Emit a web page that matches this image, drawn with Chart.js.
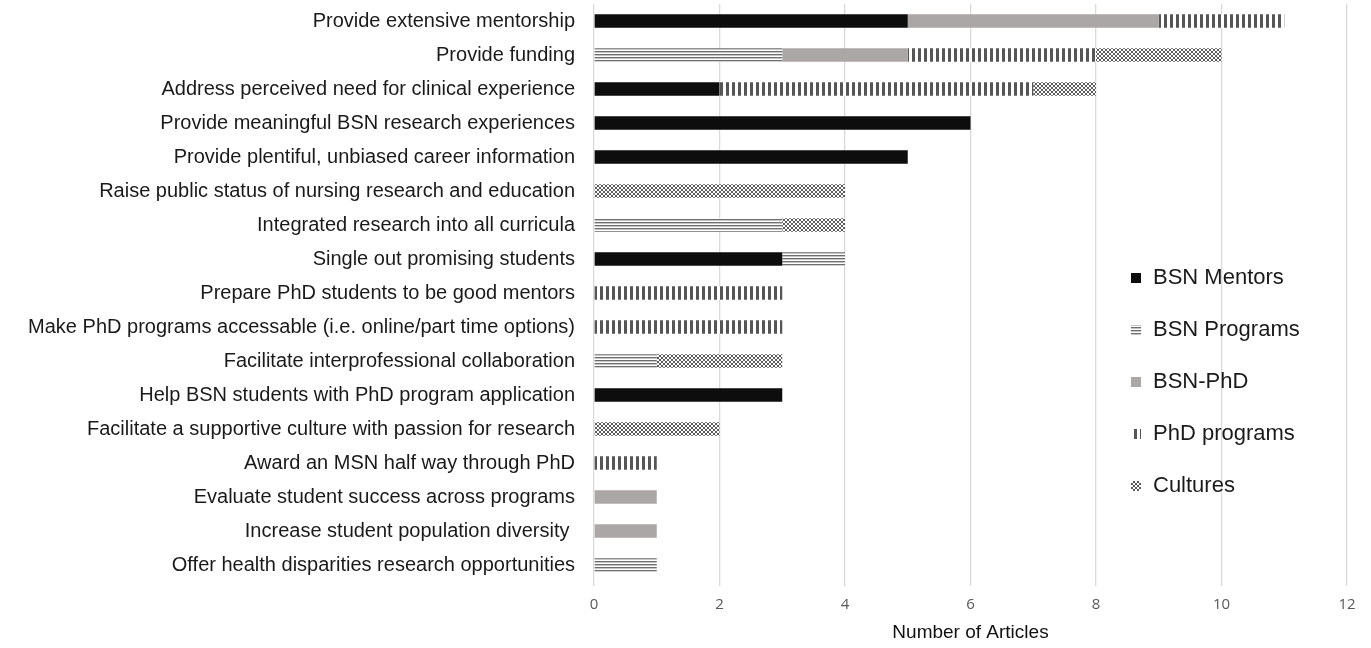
<!DOCTYPE html>
<html>
<head>
<meta charset="utf-8">
<script src="https://cdn.jsdelivr.net/npm/chart.js@4.4.1/dist/chart.umd.min.js"></script>
<style>
  html, body { margin: 0; padding: 0; background: #fff; }
  #wrap { width: 1371px; height: 648px; position: relative; }
</style>
</head>
<body>
<div id="wrap"><canvas id="chart"></canvas></div>
<script>
const categories = [
  "Provide extensive mentorship",
  "Provide funding",
  "Address perceived need for clinical experience",
  "Provide meaningful BSN research experiences",
  "Provide plentiful, unbiased career information",
  "Raise public status of nursing research and education",
  "Integrated research into all curricula",
  "Single out promising students",
  "Prepare PhD students to be good mentors",
  "Make PhD programs accessable (i.e. online/part time options)",
  "Facilitate interprofessional collaboration",
  "Help BSN students with PhD program application",
  "Facilitate a supportive culture with passion for research",
  "Award an MSN half way through PhD",
  "Evaluate student success across programs",
  "Increase student population diversity ",
  "Offer health disparities research opportunities"
];
const seriesNames = ["BSN Mentors", "BSN Programs", "BSN-PhD", "PhD programs", "Cultures"];

const bsnMentors  = [5, 0, 2, 6, 5, 0, 0, 3, 0, 0, 0, 3, 0, 0, 0, 0, 0];
const bsnPrograms = [0, 3, 0, 0, 0, 0, 3, 1, 0, 0, 1, 0, 0, 0, 0, 0, 1];
const bsnPhd      = [4, 2, 0, 0, 0, 0, 0, 0, 0, 0, 0, 0, 0, 0, 1, 1, 0];
const phdPrograms = [2, 3, 5, 0, 0, 0, 0, 0, 3, 3, 0, 0, 0, 1, 0, 0, 0];
const cultures    = [0, 2, 1, 0, 0, 4, 1, 0, 0, 0, 2, 0, 2, 0, 0, 0, 0];

const xTicks = [0, 2, 4, 6, 8, 10, 12];

// fill patterns
function makePattern(w, h, draw) {
  const c = document.createElement("canvas");
  c.width = w; c.height = h;
  const g = c.getContext("2d");
  g.fillStyle = "#fff";
  g.fillRect(0, 0, w, h);
  draw(g);
  return c.getContext("2d").createPattern(c, "repeat");
}
const hStripes = makePattern(4, 3, g => {
  g.fillStyle = "#6e6e6e";
  g.fillRect(0, 0, 4, 1.4);
});
const vDashes = makePattern(6, 4, g => {
  g.fillStyle = "#555";
  g.fillRect(0, 0, 3, 4);
});
const cross = makePattern(4, 4, g => {
  g.fillStyle = "#5c5c5c";
  [[0,0],[1,1],[2,2],[3,3],[3,0],[2,1],[1,2],[0,3]].forEach(p => g.fillRect(p[0], p[1], 1, 1));
});

const fills = ["#0d0d0d", hStripes, "#aba7a7", vDashes, cross];
const values = [bsnMentors, bsnPrograms, bsnPhd, phdPrograms, cultures];

const legendPlugin = {
  id: "sideLegend",
  afterDraw(chart) {
    const ctx = chart.ctx;
    ctx.save();
    chart.data.datasets.forEach((ds, i) => {
      const y = 278 + i * 52;
      ctx.fillStyle = ds.backgroundColor;
      ctx.fillRect(1131, y - 5, 10, 10);
      ctx.fillStyle = "#1a1a1a";
      ctx.font = "22px 'Liberation Sans', Arial, sans-serif";
      ctx.textBaseline = "middle";
      ctx.fillText(ds.label, 1153, y);
    });
    ctx.restore();
  }
};

new Chart(document.getElementById("chart"), {
  type: "bar",
  data: {
    labels: categories,
    datasets: seriesNames.map((name, i) => ({
      label: name,
      data: values[i],
      backgroundColor: fills[i],
      borderWidth: 0,
      barPercentage: 0.4,
      categoryPercentage: 1
    }))
  },
  options: {
    indexAxis: "y",
    responsive: true,
    maintainAspectRatio: false,
    animation: false,
    layout: { padding: { top: 4, right: 24, left: 0, bottom: 0 } },
    plugins: { legend: { display: false }, tooltip: { enabled: false } },
    scales: {
      x: {
        stacked: true,
        min: 0, max: 12,
        afterBuildTicks: s => { s.ticks = xTicks.map(v => ({ value: v })); },
        afterFit: s => { s.height = 66; },
        grid: { color: "#d9d9d9", lineWidth: 1.3, tickLength: 4 },
        border: { display: false },
        ticks: {
          color: "#595959",
          padding: 10,
          font: { family: "'Liberation Sans Narrow', 'Open Sans', sans-serif", size: 15 }
        },
        title: {
          display: true,
          text: "Number of Articles",
          color: "#111",
          padding: { top: 4, bottom: 4 },
          font: { family: "'Liberation Sans', Arial, sans-serif", size: 19 }
        }
      },
      y: {
        stacked: true,
        afterFit: s => { s.width = 594; s.paddingTop = 0; s.paddingBottom = 0; },
        grid: { display: false, drawTicks: false },
        border: { display: false },
        ticks: {
          color: "#1a1a1a",
          padding: 19,
          autoSkip: false,
          font: { family: "'Liberation Sans', Arial, sans-serif", size: 20 }
        }
      }
    }
  },
  plugins: [legendPlugin]
});
</script>
</body>
</html>
